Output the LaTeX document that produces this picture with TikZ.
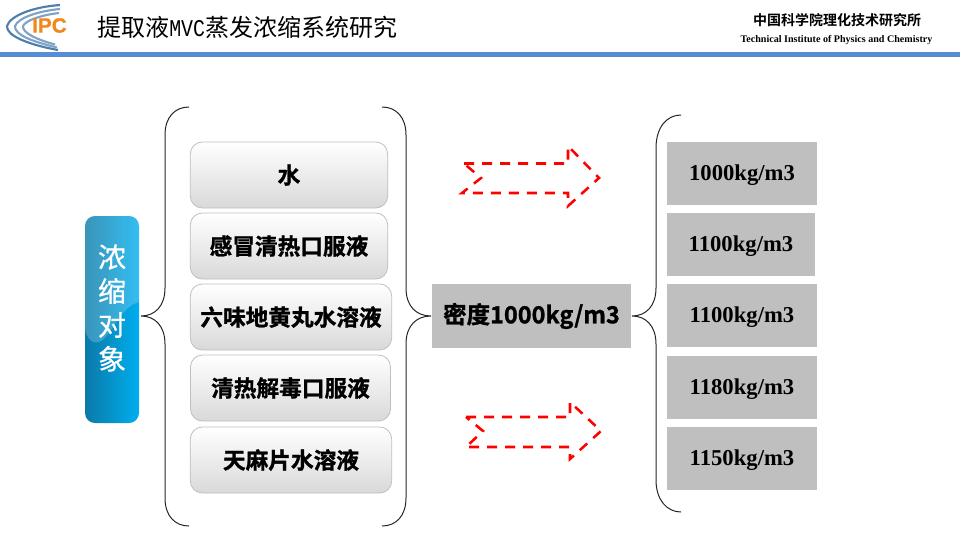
\documentclass[tikz,border=0pt]{standalone}
\usepackage{fontspec}
\setmainfont{Liberation Serif}
\newfontfamily\cjk{Noto Sans CJK SC}
\newfontfamily\cjksemi{Noto Sans CJK SC}[FakeBold=0.6]
\newfontfamily\cjkheavy{Noto Sans CJK SC Bold}[FakeBold=1.2]
\newfontfamily\cjkbold{Noto Sans CJK SC Bold}
\newfontfamily\condmono{Liberation Mono}[FakeStretch=0.83]
\newfontfamily\logofont{Liberation Sans Bold}[FakeBold=1]
\definecolor{headblue}{HTML}{558ED5}
\definecolor{boxgrey}{HTML}{BFBFBF}
\definecolor{ipcorange}{HTML}{F0881A}
\definecolor{logoblue}{HTML}{7FA3C7}
\definecolor{logodark}{HTML}{4F7EA8}
\definecolor{srcdark}{HTML}{0A7AA8}
\definecolor{srclight}{HTML}{00AEEF}
\newcommand{\denstext}[1]{\raisebox{-1.5pt}{#1}}
\tikzset{
  x=0.75pt,y=-0.75pt,
  liquid/.style={draw=boxgrey,line width=0.6pt,rounded corners=9pt,top color=white,bottom color=gray!30,
    minimum height=49.5pt,inner sep=0pt,font=\cjkheavy\fontsize{17}{17}\selectfont,text=black},
  densbox/.style={fill=boxgrey,inner sep=0pt,minimum height=47.5pt,text height=10pt,text depth=0pt,font=\bfseries\fontsize{17}{17}\selectfont,text=black},
  brace/.style={draw=black!85,line width=0.75pt},
  hollowarrow/.style={draw=red,line width=1.9pt,dash pattern=on 7.5pt off 6pt},
  logoarc/.style={draw=logoblue,line width=1.6pt,fill=none},
}
\begin{document}
\begin{tikzpicture}
\useasboundingbox (0,0) rectangle (960,540);
\fill[white] (0,0) rectangle (960,540);
% header
\fill[headblue] (0,51.5) rectangle (960,56.5);
\node[font=\cjk\fontsize{18}{18}\selectfont,anchor=west,inner sep=0pt] (title) at (97,27) {提取液{\condmono\fontsize{18}{18}\selectfont MVC}蒸发浓缩系统研究};
\node[font=\cjkbold\fontsize{10.5}{11}\selectfont,inner sep=0pt] (inst) at (837,20) {中国科学院理化技术研究所};
\node[font=\bfseries\fontsize{7.55}{8}\selectfont,inner sep=0pt] (instEn) at (836.5,40) {Technical Institute of Physics and Chemistry};
% logo
\draw[logoarc,draw=logodark] (60,5) .. controls (32,7) and (10,16) .. (7,26) .. controls (6,36) and (30,45) .. (58,50);
\draw[logoarc] (60,9) .. controls (38,11) and (18,18) .. (15,26) .. controls (14,35) and (34,42) .. (57,47.5);
\draw[logoarc] (59,13) .. controls (42,15) and (26,20) .. (23,26) .. controls (22,33) and (38,40) .. (55,44.5);
\node[font=\logofont\fontsize{15.5}{15.5}\selectfont,text=ipcorange,inner sep=0pt] (logo) at (49.5,25.5) {IPC};
% source node
\node[rounded corners=7.5pt,left color=srcdark,right color=srclight,minimum width=40.5pt,minimum height=155.25pt,inner sep=0pt] (src) at (112,319.5) {};
\begin{scope}
\clip[rounded corners=7.5pt] (85,216) rectangle (139,423);
\fill[white,opacity=0.2] (85,216) -- (139,216) -- (139,302) .. controls (125,305) and (115,325) .. (105,338) .. controls (95,348) and (85,340) .. (85,325) -- cycle;
\end{scope}
\node[text=white,align=center,inner sep=0pt,font=\cjksemi\fontsize{21}{25.5}\selectfont] (srcText) at (112,308) {浓\\缩\\对\\象};
% liquids
\node[liquid,minimum width=148pt] (l1) at (289,175) {\denstext{水}};
\node[liquid,minimum width=148pt] (l2) at (289,246) {\denstext{感冒清热口服液}};
\node[liquid,minimum width=151pt] (l3) at (291,317) {\denstext{六味地黄丸水溶液}};
\node[liquid,minimum width=150pt] (l4) at (290.5,388) {\denstext{清热解毒口服液}};
\node[liquid,minimum width=151pt] (l5) at (291,460) {\denstext{天麻片水溶液}};
% mid
\node[fill=boxgrey,minimum width=149pt,minimum height=48pt,inner sep=0pt,font=\cjkheavy\fontsize{17.6}{17.6}\selectfont] (mid) at (531.5,316) {密度1000kg/m3};
% densities
\node[densbox,minimum width=112.5pt] (d1) at (742,173.5) {1000kg/m3};
\node[densbox,minimum width=111pt] (d2) at (741,244.5) {1100kg/m3};
\node[densbox,minimum width=112.5pt] (d3) at (742,315.5) {1100kg/m3};
\node[densbox,minimum width=112.5pt] (d4) at (742,387.5) {1180kg/m3};
\node[densbox,minimum width=112.5pt] (d5) at (742,458.5) {1150kg/m3};
% braces
\draw[brace] (189,107) .. controls (175,107) and (165,117) .. (165,135) -- (165,288) .. controls (165,306) and (155,316) .. (141,316) .. controls (155,316) and (165,326) .. (165,344) -- (165,498) .. controls (165,516) and (175,526) .. (189,526);
\draw[brace] (382,107) .. controls (396,107) and (406,117) .. (406,135) -- (406,288) .. controls (406,306) and (416,316) .. (431,316) .. controls (416,316) and (406,326) .. (406,344) -- (406,498) .. controls (406,516) and (396,526) .. (382,526);
\draw[brace] (681,115) .. controls (667,115) and (656,127) .. (656,148) -- (656,288) .. controls (656,306) and (646,316) .. (632,316) .. controls (646,316) and (656,326) .. (656,344) -- (656,480) .. controls (656,500) and (667,512) .. (681,512);
% arrows
\draw[hollowarrow] (464,163.5) -- (568,163.5) -- (568,146) -- (599,178) -- (568,206) -- (568,193) -- (462,193) -- (481,178) -- cycle;
\draw[hollowarrow] (466,417) -- (570,417) -- (570,402) -- (601,431) -- (570,459) -- (570,447) -- (466,447) -- (483,431) -- cycle;
\end{tikzpicture}
\end{document}
